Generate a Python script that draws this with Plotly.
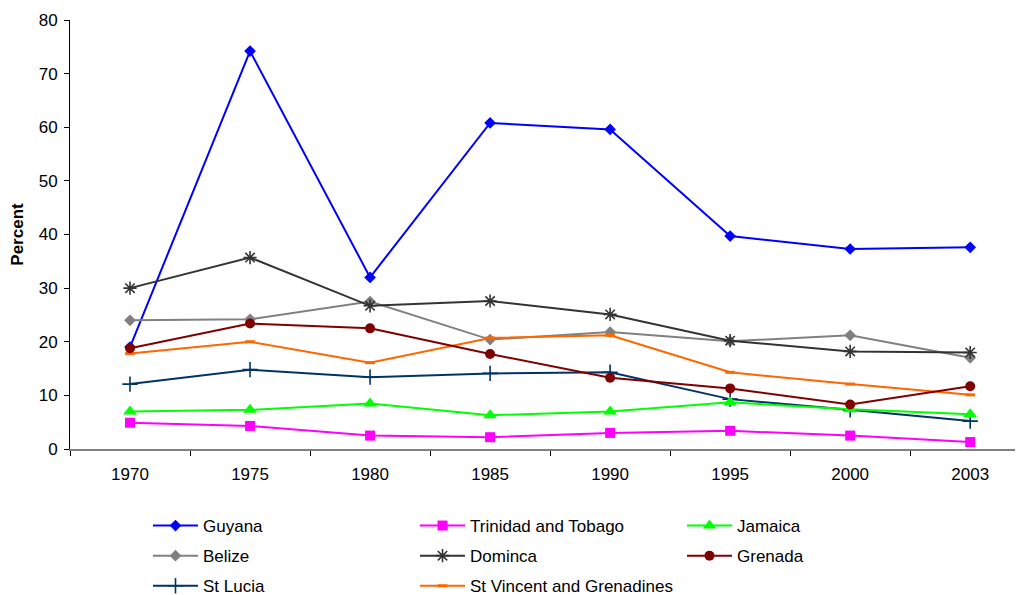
import plotly.graph_objects as go

years = ["1970", "1975", "1980", "1985", "1990", "1995", "2000", "2003"]

guyana = [19.0, 74.2, 32.0, 60.8, 59.6, 39.7, 37.3, 37.6]
trinidad = [4.9, 4.3, 2.5, 2.2, 3.0, 3.4, 2.5, 1.3]
jamaica = [7.0, 7.3, 8.5, 6.3, 7.0, 8.7, 7.4, 6.5]
belize = [24.0, 24.2, 27.5, 20.4, 21.8, 20.1, 21.2, 17.0]
dominica = [30.0, 35.7, 26.7, 27.6, 25.1, 20.2, 18.2, 18.0]
grenada = [18.8, 23.4, 22.5, 17.7, 13.3, 11.3, 8.3, 11.7]
st_lucia = [12.1, 14.8, 13.4, 14.1, 14.3, 9.3, 7.3, 5.2]
st_vincent = [17.8, 20.0, 16.1, 20.7, 21.2, 14.3, 12.1, 10.1]

series = [
    # name, values, color, symbol, size, legend
    ("Guyana", guyana, "#0000FF", "diamond", 9, "legend"),
    ("Belize", belize, "#808080", "diamond", 9, "legend"),
    ("St Lucia", st_lucia, "#003366", "cross-thin-open", 11, "legend"),
    ("Trinidad and Tobago", trinidad, "#FF00FF", "square", 10, "legend2"),
    ("Dominca", dominica, "#333333", "asterisk-open", 11, "legend2"),
    ("St Vincent and Grenadines", st_vincent, "#FF6600", "line-ew-open", 7, "legend2"),
    ("Jamaica", jamaica, "#00FF00", "triangle-up", 12, "legend3"),
    ("Grenada", grenada, "#800000", "circle", 10, "legend3"),
]

fig = go.Figure()
for name, vals, color, sym, size, leg in series:
    open_sym = sym.endswith("-open")
    marker = dict(symbol=sym, size=size, color=color)
    if open_sym:
        marker["line"] = dict(color=color, width=3 if sym.startswith("line") else 1.6)
    else:
        marker["line"] = dict(width=0)
    fig.add_trace(go.Scatter(
        x=years, y=vals, name=name, mode="lines+markers",
        line=dict(color=color, width=2), marker=marker,
        legend=leg, legendgroup=name,
    ))

font = "Liberation Sans, Arial, sans-serif"
# page body has an 8px default margin; plot area spans page x 70..1023, y 20..449
leg_top = (449 - 508) / 429
leg_common = dict(
    orientation="v", xref="paper", yref="paper",
    xanchor="left", yanchor="top", traceorder="grouped",
    tracegroupgap=5, font=dict(family=font, size=17, color="#000000"),
    bgcolor="rgba(0,0,0,0)", itemwidth=45,
)

fig.update_layout(
    width=1015, height=587,
    margin=dict(l=62, r=0, t=12, b=146, autoexpand=False),
    paper_bgcolor="white", plot_bgcolor="white",
    font=dict(family=font, size=17, color="#000000"),
    showlegend=True,
    legend=dict(x=(148 - 70) / 953, y=leg_top, **leg_common),
    legend2=dict(x=(415 - 70) / 953, y=leg_top, **leg_common),
    legend3=dict(x=(682 - 70) / 953, y=leg_top, **leg_common),
    xaxis=dict(
        type="category", range=[-0.5, 7.44], showgrid=False, zeroline=False,
        showline=True, linecolor="#808080", linewidth=2,
        ticks="outside", tickson="boundaries", ticklen=5, tickcolor="#000000",
        tickfont=dict(family=font, size=17), ticklabelstandoff=9,
    ),
    yaxis=dict(
        range=[0, 80], dtick=10, showgrid=False, zeroline=False,
        showline=True, linecolor="#000000", linewidth=1,
        ticks="outside", ticklen=5, tickcolor="#000000",
        tickfont=dict(family=font, size=17), ticklabelstandoff=3,
        title=dict(text="<b>Percent</b>", font=dict(family=font, size=17), standoff=10),
    ),
)

fig.write_html("out.html")
